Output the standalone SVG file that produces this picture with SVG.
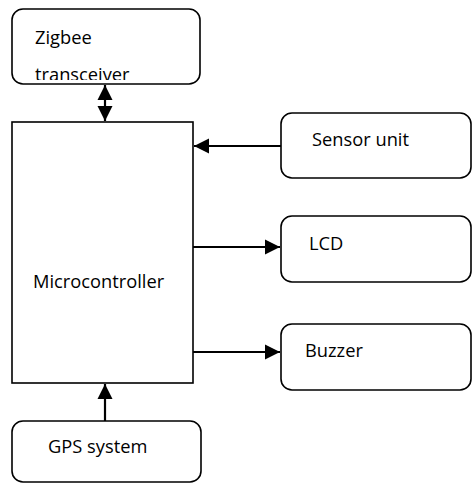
<svg xmlns="http://www.w3.org/2000/svg" width="472" height="484" viewBox="0 0 472 484">
<style>
.box{fill:#fff;stroke:#000;stroke-width:1.6}
.t{font-family:"Open Sans","Liberation Sans",sans-serif;font-size:18.3px;fill:#000}
.c{stroke:#000;stroke-width:2.2;fill:none}
</style>
<defs>
<marker id="ah" viewBox="0 0 10 10" refX="10" refY="5" markerWidth="7" markerHeight="7" orient="auto-start-reverse" markerUnits="strokeWidth">
<path d="M0,0 L10,5 L0,10 z" fill="#000"/>
</marker>
<clipPath id="zclip"><rect x="12" y="9" width="188" height="71"/></clipPath>
</defs>
<rect width="472" height="484" fill="#fff"/>
<g id="zigbee">
<rect class="box" x="12" y="9" width="188" height="75" rx="11"/>
<g clip-path="url(#zclip)">
<text class="t" x="35" y="44">Zigbee</text>
<text class="t" x="35" y="81">transceiver</text>
</g>
</g>
<g id="mcu">
<rect class="box" x="12" y="122" width="181" height="261"/>
<text class="t" x="33" y="288">Microcontroller</text>
</g>
<g id="sensor">
<rect class="box" x="281" y="113" width="190" height="65" rx="11"/>
<text class="t" x="312" y="146">Sensor unit</text>
</g>
<g id="lcd">
<rect class="box" x="281" y="216" width="190" height="66" rx="11"/>
<text class="t" x="309" y="250">LCD</text>
</g>
<g id="buzzer">
<rect class="box" x="281" y="324" width="190" height="66" rx="11"/>
<text class="t" x="305" y="357">Buzzer</text>
</g>
<g id="gps">
<rect class="box" x="12" y="421" width="189" height="61" rx="11"/>
<text class="t" x="48" y="453">GPS system</text>
</g>
<g id="connectors">
<line class="c" x1="105" y1="85" x2="105" y2="121" marker-start="url(#ah)" marker-end="url(#ah)"/>
<line class="c" x1="281" y1="146" x2="194" y2="146" marker-end="url(#ah)"/>
<line class="c" x1="193" y1="247" x2="280" y2="247" marker-end="url(#ah)"/>
<line class="c" x1="193" y1="352" x2="280" y2="352" marker-end="url(#ah)"/>
<line class="c" x1="105" y1="421" x2="105" y2="384" marker-end="url(#ah)"/>
</g>
</svg>
